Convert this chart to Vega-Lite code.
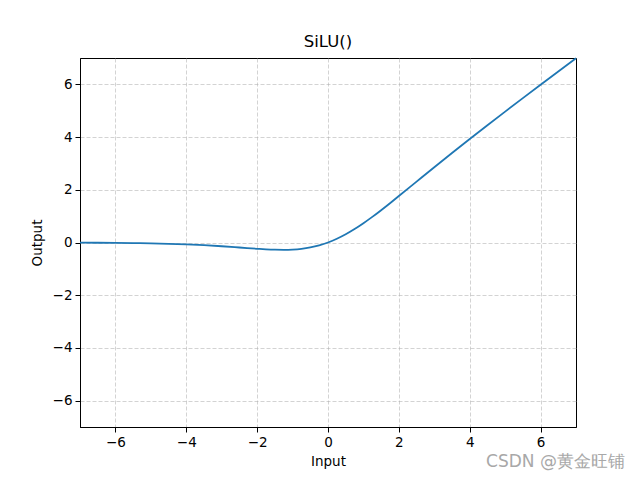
{
  "$schema": "https://vega.github.io/schema/vega-lite/v6.json",
  "width": 496,
  "height": 369,
  "autosize": "none",
  "padding": {"left": 80, "top": 58, "right": 64, "bottom": 53},
  "background": "white",
  "title": {"text": "SiLU()", "fontSize": 16.5, "font": "DejaVu Sans", "fontWeight": "normal", "color": "black", "offset": 4},
  "config": {
    "view": {"stroke": "black", "strokeWidth": 1},
    "axis": {
      "labelFont": "DejaVu Sans", "labelFontSize": 13.5, "labelColor": "black",
      "titleFont": "DejaVu Sans", "titleFontSize": 13.5, "titleFontWeight": "normal", "titleColor": "black",
      "domainColor": "black", "tickColor": "black", "tickSize": 5,
      "gridColor": "#b0b0b0", "gridOpacity": 0.7, "gridDash": [4, 2], "gridWidth": 0.8
    }
  },
  "data": {"values": [
    {"x": -7, "y": -0.0064}, {"x": -6.5, "y": -0.0098}, {"x": -6, "y": -0.0148},
    {"x": -5.5, "y": -0.0224}, {"x": -5, "y": -0.0335}, {"x": -4.5, "y": -0.0494},
    {"x": -4, "y": -0.0719}, {"x": -3.5, "y": -0.1026}, {"x": -3, "y": -0.1423},
    {"x": -2.5, "y": -0.1897}, {"x": -2, "y": -0.2384}, {"x": -1.75, "y": -0.2591},
    {"x": -1.5, "y": -0.2736}, {"x": -1.25, "y": -0.2784}, {"x": -1, "y": -0.2689},
    {"x": -0.75, "y": -0.2406}, {"x": -0.5, "y": -0.1888}, {"x": -0.25, "y": -0.1095},
    {"x": 0, "y": 0}, {"x": 0.25, "y": 0.1405}, {"x": 0.5, "y": 0.3112},
    {"x": 0.75, "y": 0.5094}, {"x": 1, "y": 0.7311}, {"x": 1.25, "y": 0.9716},
    {"x": 1.5, "y": 1.2264}, {"x": 1.75, "y": 1.4909}, {"x": 2, "y": 1.7616},
    {"x": 2.5, "y": 2.3104}, {"x": 3, "y": 2.8577}, {"x": 3.5, "y": 3.3974},
    {"x": 4, "y": 3.9281}, {"x": 4.5, "y": 4.4506}, {"x": 5, "y": 4.9665},
    {"x": 5.5, "y": 5.4776}, {"x": 6, "y": 5.9852}, {"x": 6.5, "y": 6.4902},
    {"x": 7, "y": 6.9936}
  ]},
  "layer": [
    {
      "mark": {"type": "line", "color": "#1f77b4", "strokeWidth": 1.8, "interpolate": "monotone"},
      "encoding": {
        "x": {"field": "x", "type": "quantitative", "title": "Input",
              "scale": {"domain": [-7, 7], "nice": false, "zero": false},
              "axis": {"values": [-6, -4, -2, 0, 2, 4, 6], "titlePadding": 6, "labelPadding": 3}},
        "y": {"field": "y", "type": "quantitative", "title": "Output",
              "scale": {"domain": [-7, 7], "nice": false, "zero": false},
              "axis": {"values": [-6, -4, -2, 0, 2, 4, 6], "titlePadding": 8, "labelPadding": 3}}
      }
    },
    {
      "data": {"values": [{"tx": 8.38, "ty": -8.33, "label": "CSDN @黄金旺铺"}]},
      "mark": {"type": "text", "align": "right", "baseline": "middle", "fontSize": 17, "font": "DejaVu Sans", "color": "#a8a8a8", "clip": false},
      "encoding": {
        "x": {"field": "tx", "type": "quantitative"},
        "y": {"field": "ty", "type": "quantitative"},
        "text": {"field": "label"}
      }
    }
  ]
}
